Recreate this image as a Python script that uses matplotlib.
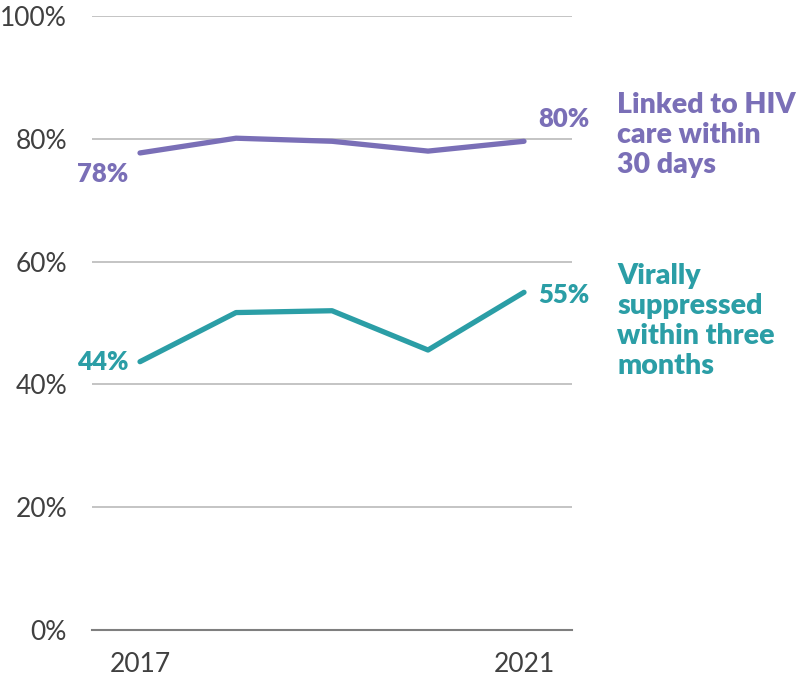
import matplotlib.pyplot as plt
from matplotlib.ticker import FuncFormatter

# --- Data ---
years = [2017, 2018, 2019, 2020, 2021]
linked_care = [77.7, 80.1, 79.6, 78.0, 79.6]
viral_supp = [43.7, 51.7, 52.0, 45.6, 55.0]
linked_label = 'Linked to HIV\ncare within\n30 days'
viral_label = 'Virally\nsuppressed\nwithin three\nmonths'

purple = '#7a6fb7'
teal = '#2b9ea6'
grey_text = '#404040'

plt.rcParams['font.family'] = ['Lato', 'DejaVu Sans']

fig = plt.figure(figsize=(7.98, 6.85), dpi=100)
ax = fig.add_axes([0.1153, 0.0803, 0.6015, 0.8963])

ax.plot(years, linked_care, color=purple, lw=3.8, solid_capstyle='round')
ax.plot(years, viral_supp, color=teal, lw=3.8, solid_capstyle='round')

# end point labels
lab_kw = dict(textcoords='offset points', ha='center', va='center',
              fontsize=18.5, fontweight='heavy')
ax.annotate(f'{linked_care[0]:.0f}%', (years[0], linked_care[0]), xytext=(-27, -15),
            color=purple, **lab_kw)
ax.annotate(f'{linked_care[-1]:.0f}%', (years[-1], linked_care[-1]), xytext=(29, 16),
            color=purple, **lab_kw)
ax.annotate(f'{viral_supp[0]:.0f}%', (years[0], viral_supp[0]), xytext=(-27, 0),
            color=teal, **lab_kw)
ax.annotate(f'{viral_supp[-1]:.0f}%', (years[-1], viral_supp[-1]), xytext=(29, -2),
            color=teal, **lab_kw)

# series labels at right
trans = ax.get_yaxis_transform()
ax.text(1.094, 80.6, linked_label, transform=trans, color=purple, fontsize=20.5,
        fontweight='heavy', va='center', ha='left', linespacing=1.2)
ax.text(1.094, 50.3, viral_label, transform=trans, color=teal, fontsize=20.5,
        fontweight='heavy', va='center', ha='left', linespacing=1.2)

ax.set_xlim(2016.5, 2021.5)
ax.set_ylim(0, 100)
ax.set_yticks([0, 20, 40, 60, 80, 100])
ax.yaxis.set_major_formatter(FuncFormatter(lambda v, p: f'{v:.0f}%'))
ax.set_xticks([years[0], years[-1]])
ax.set_xticklabels([str(years[0]), str(years[-1])])
ax.grid(axis='y', color='#bfbfbf', lw=1.3)
ax.set_axisbelow(True)
for s in ['top', 'right', 'left']:
    ax.spines[s].set_visible(False)
ax.spines['bottom'].set_color('#7f7f7f')
ax.spines['bottom'].set_linewidth(1.5)
ax.tick_params(length=0, labelsize=19, labelcolor=grey_text)
ax.tick_params(axis='y', pad=18)
ax.tick_params(axis='x', pad=16)

fig.savefig('out.png', dpi=100)
